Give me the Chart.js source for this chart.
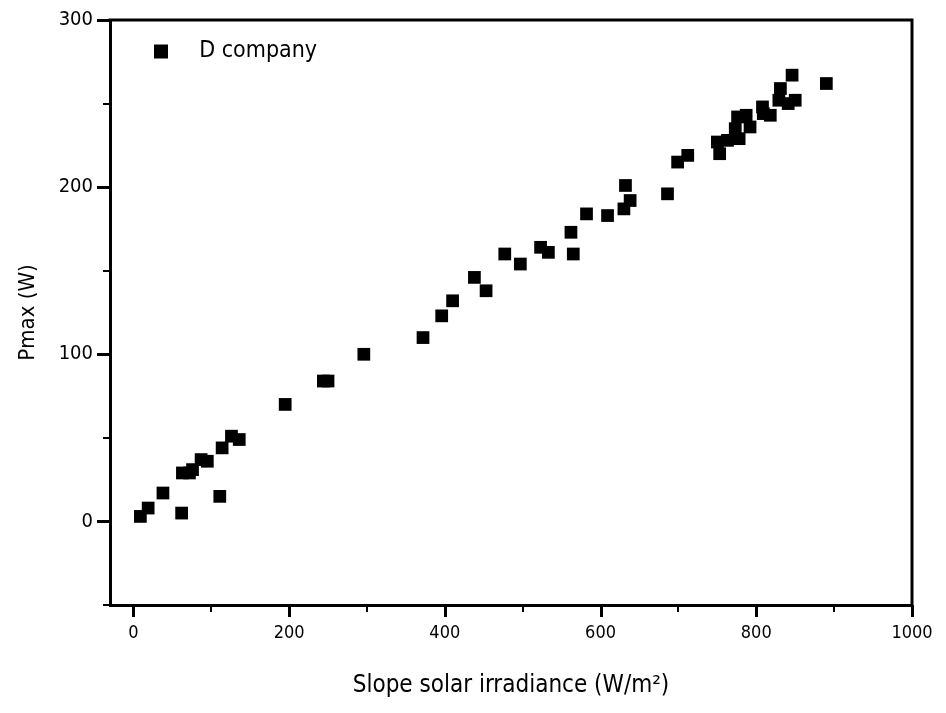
<!DOCTYPE html>
<html lang="en">
<head>
<meta charset="UTF-8">
<title>Pmax vs slope solar irradiance</title>
<style>
  html, body { margin: 0; padding: 0; background: #fff; }
  #wrap { width: 946px; height: 713px; }
</style>
</head>
<body>
<div id="wrap"><canvas id="pmaxChart" width="946" height="713"></canvas></div>
<script src="https://cdn.jsdelivr.net/npm/chart.js"></script>
<script>
// values
const seriesName = 'D company';
const irradiance = [9, 19, 38, 62, 63, 72, 76, 87, 95, 111, 114, 126, 136, 195, 244, 250,
  296, 372, 396, 410, 438, 453, 477, 497, 523, 533, 562, 565, 582, 609, 630, 632, 638,
  686, 699, 712, 750, 753, 763, 773, 776, 778, 787, 792, 808, 809, 818, 829, 831, 841,
  846, 850, 890];
const pmax = [3, 8, 17, 5, 29, 29, 31, 37, 36, 15, 44, 51, 49, 70, 84, 84,
  100, 110, 123, 132, 146, 138, 160, 154, 164, 161, 173, 160, 184, 183, 187, 201, 192,
  196, 215, 219, 227, 220, 228, 235, 242, 229, 243, 236, 248, 244, 243, 252, 259, 250,
  267, 252, 262];
const xLabelStep = 200;   // labelled x ticks: 0, 200 ... 1000
const yLabelStep = 100;   // labelled y ticks: 0, 100 ... 300
const xMinorTicks = [100, 300, 500, 700, 900];
const yMinorTicks = [-50, 50, 150, 250];

const FONT = "'Liberation Sans Narrow', 'DejaVu Sans Condensed', 'Arial Narrow', sans-serif";
const isXLabel = v => v % xLabelStep === 0;

// frame on top/right, plus major and minor tick marks
const framePlugin = {
  id: 'frame',
  afterLayout(chart) {
    chart.legend.left += 24;
    chart.legend.top += 20;
  },
  afterDraw(chart) {
    const { ctx, chartArea: a, scales: { x, y } } = chart;
    ctx.save();
    ctx.strokeStyle = '#000';
    ctx.lineWidth = 3;
    ctx.beginPath();
    ctx.moveTo(a.left - 1.5, a.top);
    ctx.lineTo(a.right, a.top);
    ctx.lineTo(a.right, a.bottom + 1.5);
    // major ticks
    x.ticks.filter(t => isXLabel(t.value)).forEach(t => {
      const px = Math.round(x.getPixelForValue(t.value)) + 0.5;
      ctx.moveTo(px, a.bottom);
      ctx.lineTo(px, a.bottom + 12);
    });
    y.ticks.forEach(t => {
      const py = Math.round(y.getPixelForValue(t.value)) + 0.5;
      ctx.moveTo(a.left, py);
      ctx.lineTo(a.left - 13, py);
    });
    ctx.stroke();
    // minor ticks
    ctx.lineWidth = 2;
    ctx.beginPath();
    xMinorTicks.forEach(v => {
      const px = Math.round(x.getPixelForValue(v));
      ctx.moveTo(px, a.bottom);
      ctx.lineTo(px, a.bottom + 7);
    });
    yMinorTicks.forEach(v => {
      const py = Math.round(y.getPixelForValue(v));
      ctx.moveTo(a.left, py);
      ctx.lineTo(a.left - 7, py);
    });
    ctx.stroke();
    ctx.restore();
  }
};

new Chart(document.getElementById('pmaxChart'), {
  type: 'scatter',
  data: {
    datasets: [{
      label: seriesName,
      data: irradiance.map((v, i) => ({ x: v, y: pmax[i] })),
      pointStyle: 'rect',
      pointRadius: 9,
      backgroundColor: '#000',
      borderColor: '#000',
      borderWidth: 0
    }]
  },
  options: {
    responsive: false,
    animation: false,
    layout: { padding: { top: 20, right: 34, left: 0, bottom: 0 } },
    plugins: {
      tooltip: { enabled: false },
      legend: {
        position: 'chartArea',
        align: 'start',
        labels: {
          boxWidth: 14,
          boxHeight: 14,
          padding: 20,
          color: '#000',
          font: { family: FONT, size: 23 },
          generateLabels: chart =>
            Chart.defaults.plugins.legend.labels.generateLabels(chart)
              .map(l => ({ ...l, text: '   ' + l.text, lineWidth: 0 }))
        }
      }
    },
    scales: {
      x: {
        type: 'linear',
        min: -30,
        max: 1000,
        afterFit: s => { s.height = 108; s.paddingLeft = 0; s.paddingRight = 0; },
        ticks: { stepSize: 100, includeBounds: false, autoSkip: false, maxRotation: 0,
          color: '#000', padding: 10,
          callback: v => (isXLabel(v) ? String(v) : ''),
          font: { family: FONT, size: 18 } },
        grid: { display: false },
        border: { display: true, width: 3, color: '#000' },
        title: { display: true, text: 'Slope solar irradiance (W/m²)', color: '#000',
          font: { family: FONT, size: 24 }, padding: { bottom: 13 } }
      },
      y: {
        type: 'linear',
        min: -50,
        max: 300,
        afterFit: s => { s.width = 110; s.paddingTop = 0; s.paddingBottom = 0; },
        ticks: { stepSize: yLabelStep, includeBounds: false, color: '#000', padding: 9,
          callback: v => String(v),
          font: { family: FONT, size: 20 } },
        grid: { display: false },
        border: { display: true, width: 3, color: '#000' },
        title: { display: true, text: 'Pmax (W)', color: '#000',
          font: { family: FONT, size: 22 }, padding: { top: 15 } }
      }
    }
  },
  plugins: [framePlugin]
});
</script>
</body>
</html>
